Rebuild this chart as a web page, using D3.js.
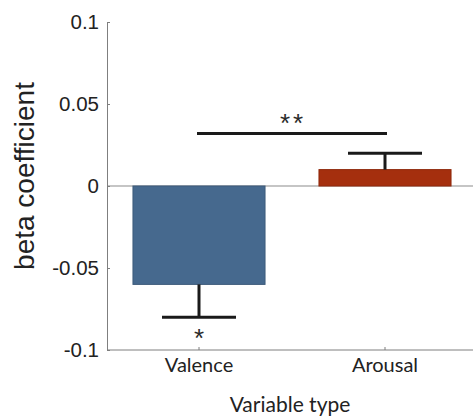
<!DOCTYPE html>
<html>
<head>
<meta charset="utf-8">
<script src="https://cdn.jsdelivr.net/npm/d3@7"></script>
<style>
  html, body { margin: 0; padding: 0; background: #fff; }
  svg { display: block; }
</style>
</head>
<body>
<svg id="chart" width="473" height="419"></svg>
<script>
// Regression betas per variable type, with one-sided error bars
const categories = ["Valence", "Arousal"];
const betas = [-0.06, 0.01];
const errors = [0.02, 0.01];
const barColors = ["#46698e", "#a52f0e"];
const yTicks = [-0.1, -0.05, 0, 0.05, 0.1];
const yTickLabels = ["-0.1", "-0.05", "0", "0.05", "0.1"];
const barStars = ["*", ""];
const pairStars = "**";
const pairBarY = 0.032;

const svg = d3.select("#chart");

const y = d3.scaleLinear().domain([-0.1, 0.1]).range([350, 22]);
const x = d3.scaleBand().domain(categories).range([106, 478])
  .paddingInner(0.29).paddingOuter(0.145);
const cx = d => x(d) + x.bandwidth() / 2;

const axisColor = "#7f7f7f";

// zero reference line
svg.append("line")
  .attr("x1", 107).attr("x2", 473)
  .attr("y1", y(0)).attr("y2", y(0))
  .attr("stroke", "#8c8c8c").attr("stroke-width", 1.2);

// bars
svg.selectAll("rect.bar").data(categories).join("rect")
  .attr("class", "bar")
  .attr("x", d => x(d))
  .attr("width", x.bandwidth())
  .attr("y", (d, i) => y(Math.max(0, betas[i])))
  .attr("height", (d, i) => Math.abs(y(betas[i]) - y(0)))
  .attr("fill", (d, i) => barColors[i])
  .attr("stroke", (d, i) => d3.color(barColors[i]).darker(0.4))
  .attr("stroke-width", 1);

// error bars: extend away from zero
const capHalf = 37;
categories.forEach((c, i) => {
  const dir = Math.sign(betas[i]);
  const yEnd = y(betas[i] + dir * errors[i]);
  const g = svg.append("g").attr("stroke", "#1a1a1a").attr("stroke-width", 3);
  g.append("line").attr("x1", cx(c)).attr("x2", cx(c))
    .attr("y1", y(betas[i])).attr("y2", yEnd);
  g.append("line").attr("x1", cx(c) - capHalf).attr("x2", cx(c) + capHalf)
    .attr("y1", yEnd).attr("y2", yEnd);
  if (barStars[i]) {
    svg.append("text")
      .attr("x", cx(c)).attr("y", yEnd + 30)
      .attr("text-anchor", "middle")
      .attr("font-family", "Liberation Sans, Arial, sans-serif")
      .attr("font-size", 26).attr("fill", "#2a2a2a")
      .text(barStars[i]);
  }
});

// comparison bar between the two categories
svg.append("line")
  .attr("x1", cx(categories[0]) - 2).attr("x2", cx(categories[1]) + 2)
  .attr("y1", y(pairBarY)).attr("y2", y(pairBarY))
  .attr("stroke", "#1a1a1a").attr("stroke-width", 3);
svg.append("text")
  .attr("x", (cx(categories[0]) + cx(categories[1])) / 2 + 1)
  .attr("y", y(pairBarY) - 2)
  .attr("text-anchor", "middle")
  .attr("font-family", "Liberation Sans, Arial, sans-serif")
  .attr("font-size", 26).attr("letter-spacing", 3).attr("fill", "#2a2a2a")
  .text(pairStars);

// y axis
const yAxis = d3.axisLeft(y).tickValues(yTicks)
  .tickFormat((d, i) => yTickLabels[i])
  .tickSizeInner(-3).tickSizeOuter(0).tickPadding(8);
const gy = svg.append("g").attr("transform", "translate(107,0)").call(yAxis);
gy.select(".domain").attr("stroke", axisColor);
gy.selectAll(".tick line").attr("stroke", axisColor);
gy.selectAll(".tick text")
  .attr("font-family", "Liberation Sans, Arial, sans-serif")
  .attr("font-size", 20.5).attr("fill", "#222");

// x axis
const xAxis = d3.axisBottom(x).tickSizeInner(-3).tickSizeOuter(0).tickPadding(8);
const gx = svg.append("g").attr("transform", `translate(0,${y(-0.1)})`).call(xAxis);
gx.select(".domain").attr("stroke", axisColor).attr("d", `M107,0H473`);
gx.selectAll(".tick line").attr("stroke", axisColor);
gx.selectAll(".tick text")
  .attr("font-family", "Lato, sans-serif")
  .attr("font-size", 20).attr("fill", "#222");

// axis titles
svg.append("text")
  .attr("transform", "translate(34,176) rotate(-90)")
  .attr("text-anchor", "middle")
  .attr("font-family", "Liberation Sans, Arial, sans-serif")
  .attr("font-size", 28).attr("fill", "#222")
  .text("beta coefficient");
svg.append("text")
  .attr("x", 290).attr("y", 412)
  .attr("text-anchor", "middle")
  .attr("font-family", "Lato, sans-serif")
  .attr("font-size", 21).attr("fill", "#222")
  .text("Variable type");
</script>
</body>
</html>
